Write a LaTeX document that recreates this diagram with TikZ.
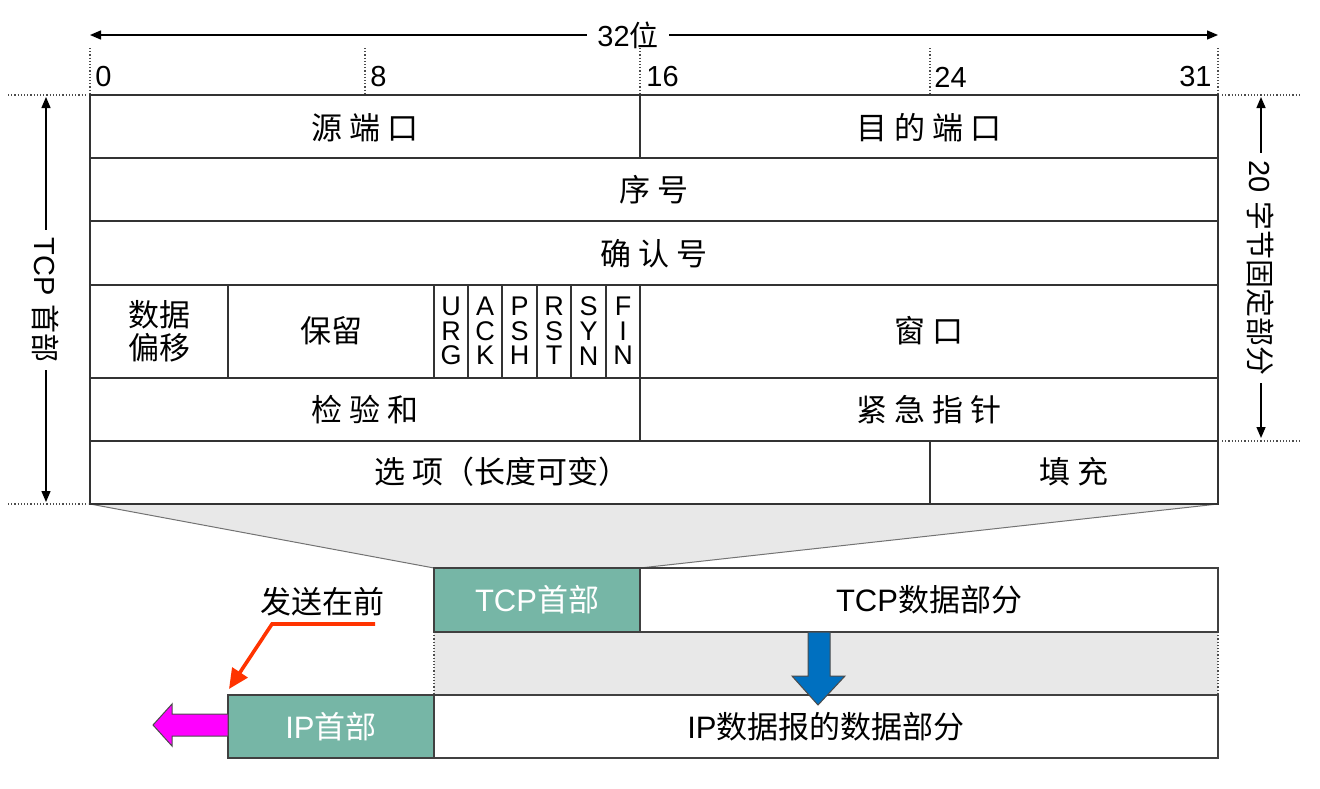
\documentclass[tikz,border=0pt]{standalone}
\usepackage{fontspec}
\setmainfont{Liberation Sans}
\newfontfamily\cjk{Noto Sans CJK SC}
\usetikzlibrary{arrows.meta}
\definecolor{tealc}{HTML}{76B6A6}
\definecolor{grayc}{HTML}{E8E8E8}
\definecolor{bluec}{HTML}{0070C0}
\definecolor{redc}{HTML}{FF3300}
\definecolor{magc}{HTML}{FF00FF}
\begin{document}
\begin{tikzpicture}[x=0.5pt,y=-0.5pt,
  tl/.style={draw=black!80,line width=0.6pt},
  txt/.style={font=\fontsize{15.5}{17}\selectfont,inner sep=0pt},
  num/.style={font=\fontsize{14.5}{16}\selectfont,inner sep=0pt},
  flag/.style={font=\fontsize{13.5}{12.3}\selectfont,inner sep=0pt,align=center},
  dimarrow/.style={line width=0.7pt,{Triangle[length=5.5pt,width=4.5pt]}-{Triangle[length=5.5pt,width=4.5pt]}},
  dots/.style={densely dotted,line width=0.6pt,draw=black!70},
  tealbox/.style={fill=tealc,draw=black!75,line width=0.6pt},
  wbox/.style={fill=white,draw=black!75,line width=0.6pt},
  edge/.style={draw=black!55,line width=0.5pt},
]
\useasboundingbox (0,0) rectangle (1320,788);

% trapezoid
\fill[grayc] (90,504) -- (1218,504) -- (640,568) -- (434,568) -- cycle;
\draw[edge] (90,504) -- (434,568);
\draw[edge] (1218,504) -- (640,568);

% table
\draw[tl] (90,95) rectangle (1218,504);
\foreach \y in {158,221,285,378,441} \draw[tl] (90,\y) -- (1218,\y);
\draw[tl] (640,95) -- (640,158);
\draw[tl] (228,285) -- (228,378);
\foreach \x in {434,468,502,537,571,606,640} \draw[tl] (\x,285) -- (\x,378);
\draw[tl] (640,378) -- (640,441);
\draw[tl] (930,441) -- (930,504);

\node[txt] (srcport) at (365,128) {\cjk 源 端 口};
\node[txt] (dstport) at (929,128) {\cjk 目 的 端 口};
\node[txt] (seq) at (654,190) {\cjk 序 号};
\node[txt] (ack) at (654,254) {\cjk 确 认 号};
\node[txt,align=center,font=\fontsize{15.5}{16.5}\selectfont] (offset) at (159,331) {\cjk 数据\\\cjk 偏移};
\node[txt] (resv) at (331,331) {\cjk 保留};
\node[flag] (urg) at (451,331) {U\\R\\G};
\node[flag] (fack) at (485,331) {A\\C\\K};
\node[flag] (psh) at (519.5,331) {P\\S\\H};
\node[flag] (rst) at (554,331) {R\\S\\T};
\node[flag] (syn) at (588.5,331) {S\\Y\\N};
\node[flag] (fin) at (623,331) {F\\I\\N};
\node[txt] (win) at (929,331) {\cjk 窗 口};
\node[txt] (chk) at (365,410) {\cjk 检 验 和};
\node[txt] (urgp) at (929,410) {\cjk 紧 急 指 针};
\node[txt] (opt) at (502,472) {\cjk 选 项（长度可变）};
\node[txt] (pad) at (1074,472) {\cjk 填 充};

% top dimension
\coordinate (wl) at (90,35);
\coordinate (wr) at (1218,35);
\draw[dimarrow] (wl) -- (wr);
\node[num,fill=white,inner xsep=5pt,inner ysep=2pt] (w32) at (628,35) {32{\cjk 位}};
\foreach \x in {90,365,640,930,1218} \draw[dots] (\x,48) -- (\x,95);
\node[num,anchor=west] (b0) at (95,77) {0};
\node[num,anchor=west] (b8) at (370,77) {8};
\node[num,anchor=west] (b16) at (646,77) {16};
\node[num,anchor=west] (b24) at (934,77) {24};
\node[num,anchor=east] (b31) at (1212,77) {31};

% left dimension
\draw[dots] (8,95) -- (86,95);
\draw[dots] (8,504) -- (88,504);
\coordinate (lt) at (46,97);
\coordinate (lb) at (46,502);
\draw[dimarrow] (lt) -- (lb);
\node[num,fill=white,rotate=-90,inner xsep=4pt,inner ysep=2pt] (hdr) at (46,300) {TCP {\cjk 首部}};

% right dimension
\draw[dots] (1222,95) -- (1300,95);
\draw[dots] (1222,441) -- (1300,441);
\coordinate (rt) at (1261,97);
\coordinate (rb) at (1261,438);
\draw[dimarrow] (rt) -- (rb);
\node[num,fill=white,rotate=-90,inner xsep=4pt,inner ysep=2pt] (fix) at (1261,268) {20 {\cjk 字节固定部分}};

% lower part
\fill[grayc] (434,632) rectangle (1218,695);
\draw[dots] (434,632) -- (434,695);
\draw[dots] (1218,632) -- (1218,695);

\draw[tealbox] (434,568) rectangle (640,632);
\node[txt,text=white] (tcph) at (537,600) {TCP{\cjk 首部}};
\draw[wbox] (640,568) rectangle (1218,632);
\node[txt] (tcpd) at (929,600) {TCP{\cjk 数据部分}};

\draw[tealbox] (228,695) rectangle (434,758);
\node[txt,text=white] (iph) at (331,727) {IP{\cjk 首部}};
\draw[wbox] (434,695) rectangle (1218,758);
\node[txt] (ipd) at (826,727) {IP{\cjk 数据报的数据部分}};

% blue arrow
\draw[fill=bluec,draw=black!70,line width=0.5pt] (808,632) -- (830,632) -- (830,676) -- (845,676) -- (818,705) -- (792,676) -- (808,676) -- cycle;

% magenta arrow
\draw[fill=magc,draw=black!70,line width=0.5pt] (228,714) -- (172,714) -- (172,704) -- (153,725) -- (172,746) -- (172,736) -- (228,736) -- cycle;

% red arrow
\node[txt] (send) at (322,602) {\cjk 发送在前};
\coordinate (r1) at (375,624);
\coordinate (r2) at (272,624);
\coordinate (r3) at (229,689);
\draw[redc,line width=1.8pt,-{Triangle[length=10pt,width=9pt]}] (r1) -- (r2) -- (r3);
\end{tikzpicture}
\end{document}
